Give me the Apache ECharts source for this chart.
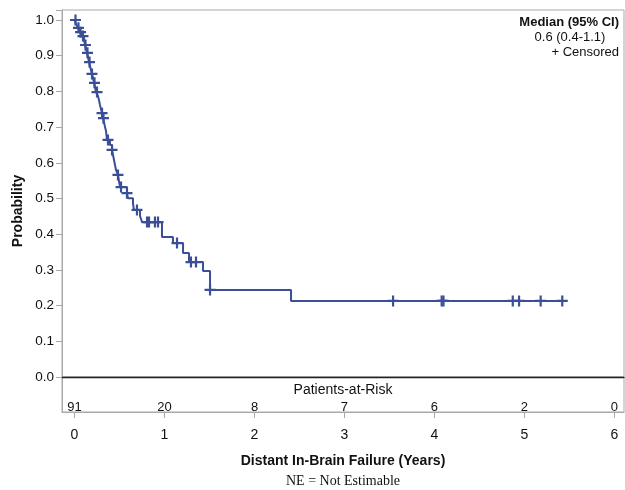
<!DOCTYPE html>
<html>
<head>
<meta charset="utf-8">
<script src="https://cdn.jsdelivr.net/npm/echarts@6/dist/echarts.min.js"></script>
<style>
html,body{margin:0;padding:0;background:#fff;}
#c{width:625px;height:490px;}
</style>
</head>
<body>
<div id="c"></div>
<script>
// Kaplan-Meier step points: time (years) and survival probability after each drop
var stepTimes = [0, 0.017, 0.039, 0.061, 0.083, 0.106, 0.117, 0.128, 0.139, 0.150, 0.161, 0.172, 0.183, 0.194, 0.206, 0.217, 0.228, 0.239, 0.261, 0.272, 0.283, 0.294, 0.306, 0.317, 0.328, 0.339, 0.350, 0.356, 0.361, 0.394, 0.417, 0.428, 0.439, 0.450, 0.461, 0.483, 0.494, 0.506, 0.583, 0.594, 0.650, 0.661, 0.728, 0.750, 0.972, 1.094, 1.206, 1.272, 1.428, 1.506, 2.406, 5.461];
var stepProbs = [1.0, 0.989, 0.978, 0.966, 0.955, 0.944, 0.930, 0.919, 0.908, 0.896, 0.882, 0.871, 0.860, 0.849, 0.838, 0.824, 0.812, 0.798, 0.787, 0.776, 0.762, 0.751, 0.739, 0.725, 0.714, 0.700, 0.689, 0.675, 0.664, 0.650, 0.636, 0.622, 0.608, 0.594, 0.580, 0.566, 0.549, 0.532, 0.515, 0.501, 0.485, 0.468, 0.451, 0.434, 0.392, 0.375, 0.347, 0.322, 0.297, 0.244, 0.213, 0.213];
// Censored observations
var censorTimes = [0.011, 0.044, 0.067, 0.094, 0.122, 0.144, 0.167, 0.194, 0.222, 0.250, 0.306, 0.322, 0.372, 0.417, 0.483, 0.517, 0.583, 0.694, 0.806, 0.828, 0.894, 0.928, 1.139, 1.294, 1.350, 1.506, 3.54, 4.08, 4.10, 4.87, 4.94, 5.18, 5.42];
var censorProbs = [1.0, 0.978, 0.966, 0.955, 0.930, 0.908, 0.882, 0.849, 0.824, 0.798, 0.739, 0.725, 0.664, 0.636, 0.566, 0.532, 0.515, 0.468, 0.434, 0.434, 0.434, 0.434, 0.375, 0.322, 0.322, 0.244, 0.213, 0.213, 0.213, 0.213, 0.213, 0.213, 0.213];
// Patients at risk
var riskTimes = [0, 1, 2, 3, 4, 5, 6];
var riskCounts = [91, 20, 8, 7, 6, 2, 0];
var xTicks = [0, 1, 2, 3, 4, 5, 6];

var BLUE = '#3b4e98';
var GRAY = '#a9a9a9';
var FONT = 'Liberation Sans, Arial, sans-serif';
var XMIN = -0.139, XMAX = 6.106;

var curve = stepTimes.map(function(t, i){ return [t, stepProbs[i]]; });
var cens = censorTimes.map(function(t, i){ return [t, censorProbs[i]]; });

var chart = echarts.init(document.getElementById('c'), null, {renderer: 'canvas'});
chart.setOption({
  animation: false,
  backgroundColor: '#fff',
  grid: [
    {left: 62, right: 1, top: 10, height: 367, show: true, borderColor: GRAY, borderWidth: 1},
    {left: 62, right: 1, top: 377, height: 35, show: true, borderColor: GRAY, borderWidth: 1}
  ],
  xAxis: [
    {gridIndex: 0, type: 'value', min: XMIN, max: XMAX,
     axisLine: {show: true, onZero: false, lineStyle: {color: '#222', width: 1.3}},
     axisTick: {show: false}, axisLabel: {show: false}, splitLine: {show: false}},
    {gridIndex: 1, type: 'value', min: XMIN, max: XMAX, position: 'bottom',
     axisLine: {show: true, onZero: false, lineStyle: {color: GRAY}},
     axisTick: {show: true, inside: false, length: 6, lineStyle: {color: GRAY}, customValues: xTicks},
     axisLabel: {show: true, inside: false, color: '#111', fontSize: 14, fontFamily: FONT, margin: 16, customValues: xTicks},
     splitLine: {show: false}},
    {gridIndex: 1, type: 'value', min: XMIN, max: XMAX, position: 'bottom',
     axisLine: {show: false, onZero: false},
     axisTick: {show: false},
     axisLabel: {show: true, inside: true, margin: -2, color: '#111', fontSize: 13, fontFamily: FONT,
       customValues: riskTimes,
       formatter: function(v){ var i = riskTimes.indexOf(v); return i >= 0 ? String(riskCounts[i]) : ''; }},
     splitLine: {show: false}}
  ],
  yAxis: [
    {gridIndex: 0, type: 'value', min: 0, max: 1.028, interval: 0.1,
     axisLine: {show: true, onZero: false, lineStyle: {color: GRAY}},
     axisTick: {show: true, length: 6, lineStyle: {color: GRAY}},
     axisLabel: {color: '#111', fontSize: 13.5, fontFamily: FONT, margin: 8,
       formatter: function(v){ return v > 1.001 ? '' : v.toFixed(1); }},
     splitLine: {show: false}},
    {gridIndex: 1, type: 'value', min: 0, max: 1,
     axisLine: {show: true, onZero: false, lineStyle: {color: GRAY}},
     axisTick: {show: false}, axisLabel: {show: false}, splitLine: {show: false}}
  ],
  series: [
    {type: 'line', xAxisIndex: 0, yAxisIndex: 0, data: curve, step: 'end',
     showSymbol: false, symbol: 'none', lineStyle: {color: BLUE, width: 2}, z: 3},
    {type: 'scatter', xAxisIndex: 0, yAxisIndex: 0, data: cens,
     symbol: 'path://M4,0H6V4H10V6H6V10H4V6H0V4H4Z', symbolSize: 11,
     itemStyle: {color: BLUE, opacity: 1}, z: 4}
  ],
  graphic: [
    {type: 'text', x: 343, y: 390,
     style: {text: 'Patients-at-Risk', fontSize: 14, fontFamily: FONT, fill: '#111', align: 'center', verticalAlign: 'middle'}},
    {type: 'text', x: 18, y: 211, rotation: Math.PI/2,
     style: {text: 'Probability', fontSize: 14, fontWeight: 'bold', fontFamily: FONT, fill: '#111', align: 'center', verticalAlign: 'middle'}},
    {type: 'text', x: 343, y: 461,
     style: {text: 'Distant In-Brain Failure (Years)', fontSize: 14, fontWeight: 'bold', fontFamily: FONT, fill: '#111', align: 'center', verticalAlign: 'middle'}},
    {type: 'text', x: 343, y: 481,
     style: {text: 'NE = Not Estimable', fontSize: 14, fontFamily: 'Liberation Serif, Times New Roman, serif', fill: '#111', align: 'center', verticalAlign: 'middle'}},
    {type: 'text', x: 619, y: 22,
     style: {text: 'Median (95% CI)', fontSize: 13, fontWeight: 'bold', fontFamily: FONT, fill: '#111', align: 'right', verticalAlign: 'middle'}},
    {type: 'text', x: 570, y: 37,
     style: {text: '0.6 (0.4-1.1)', fontSize: 13, fontFamily: FONT, fill: '#111', align: 'center', verticalAlign: 'middle'}},
    {type: 'text', x: 619, y: 52,
     style: {text: '+ Censored', fontSize: 13, fontFamily: FONT, fill: '#111', align: 'right', verticalAlign: 'middle'}}
  ]
});
</script>
</body>
</html>
